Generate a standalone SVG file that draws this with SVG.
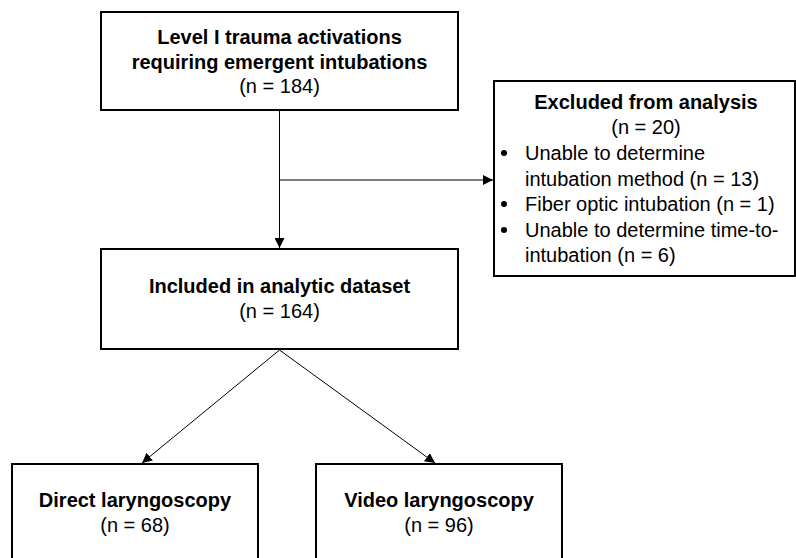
<svg xmlns="http://www.w3.org/2000/svg" width="796" height="558" viewBox="0 0 796 558">
<style>
.box{fill:#fff;stroke:#000;stroke-width:2}
.t{font-family:"Liberation Sans",Arial,sans-serif;font-size:20px;fill:#000}
.b{font-weight:bold}
.c{text-anchor:middle}
.ln{stroke:#000;stroke-width:1;fill:none}
</style>
<defs>
<marker id="ah" viewBox="0 0 10 10" refX="10" refY="5" markerWidth="10" markerHeight="10" markerUnits="userSpaceOnUse" orient="auto">
<path d="M0,0 L10,5 L0,10 Z" fill="#000"/>
</marker>
</defs>
<rect width="796" height="558" fill="#fff"/>
<g id="connectors">
<line class="ln" x1="279.5" y1="111" x2="279.5" y2="248" marker-end="url(#ah)"/>
<line class="ln" x1="279.5" y1="180" x2="493" y2="180" marker-end="url(#ah)"/>
<line class="ln" x1="279.5" y1="350" x2="142" y2="463" marker-end="url(#ah)"/>
<line class="ln" x1="279.5" y1="350" x2="435" y2="463" marker-end="url(#ah)"/>
</g>
<g id="node-top">
<rect class="box" x="101" y="12" width="357" height="98"/>
<text class="t b c" x="279.5" y="44">Level I trauma activations</text>
<text class="t b c" x="279.5" y="68.5">requiring emergent intubations</text>
<text class="t c" x="279.5" y="93">(n = 184)</text>
</g>
<g id="node-excluded">
<rect class="box" x="494" y="81" width="301" height="195"/>
<text class="t b c" x="646" y="109">Excluded from analysis</text>
<text class="t c" x="646" y="134">(n = 20)</text>
<circle cx="504" cy="153" r="3"/>
<text class="t" x="525" y="160">Unable to determine</text>
<text class="t" x="525" y="185.5">intubation method (n = 13)</text>
<circle cx="504" cy="204" r="3"/>
<text class="t" x="525" y="211">Fiber optic intubation (n = 1)</text>
<circle cx="504" cy="230" r="3"/>
<text class="t" x="525" y="237">Unable to determine time-to-</text>
<text class="t" x="525" y="262">intubation (n = 6)</text>
</g>
<g id="node-included">
<rect class="box" x="101" y="249" width="357" height="100"/>
<text class="t b c" x="279.5" y="293">Included in analytic dataset</text>
<text class="t c" x="279.5" y="318">(n = 164)</text>
</g>
<g id="node-direct">
<rect class="box" x="12" y="464" width="246" height="110"/>
<text class="t b c" x="135" y="507">Direct laryngoscopy</text>
<text class="t c" x="135" y="532">(n = 68)</text>
</g>
<g id="node-video">
<rect class="box" x="316" y="464" width="246" height="110"/>
<text class="t b c" x="439" y="507">Video laryngoscopy</text>
<text class="t c" x="439" y="532">(n = 96)</text>
</g>
</svg>
